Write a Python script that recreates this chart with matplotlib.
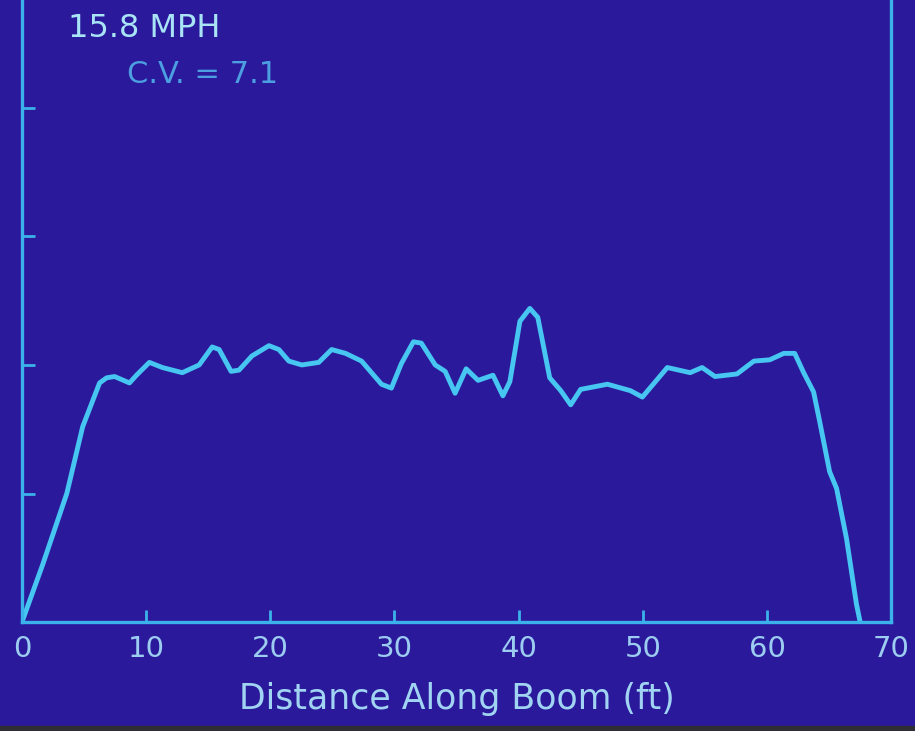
import matplotlib.pyplot as plt
from matplotlib.patches import Rectangle

# deposition profile along the boom
dist_ft = [0, 1.68, 3.61, 4.89, 6.25, 6.82, 7.46, 8.66, 9.22, 10.26, 11.31, 12.91,
           14.27, 15.32, 15.88, 16.84, 17.48, 18.52, 19.89, 20.69, 21.49, 22.54,
           23.90, 24.94, 26.06, 27.35, 28.95, 29.75, 30.55, 31.52, 32.16, 33.28,
           34.08, 34.88, 35.77, 36.73, 37.93, 38.73, 39.29, 40.10, 40.90, 41.54,
           42.50, 43.39, 44.19, 44.99, 47.15, 49.00, 49.96, 51.97, 53.81, 54.77,
           55.81, 57.58, 58.94, 60.22, 61.35, 62.23, 62.95, 63.75, 64.24, 65.04,
           65.60, 66.40, 67.20, 67.50]
deposit = [0, 0.45, 1.00, 1.52, 1.86, 1.90, 1.91, 1.86, 1.92, 2.02, 1.98, 1.94,
           2.00, 2.14, 2.12, 1.95, 1.96, 2.07, 2.15, 2.12, 2.03, 2.00,
           2.02, 2.12, 2.09, 2.03, 1.85, 1.82, 2.01, 2.18, 2.17, 2.00,
           1.95, 1.78, 1.97, 1.88, 1.92, 1.76, 1.87, 2.34, 2.44, 2.37,
           1.90, 1.80, 1.69, 1.81, 1.85, 1.80, 1.75, 1.98, 1.94, 1.98,
           1.91, 1.93, 2.03, 2.04, 2.09, 2.09, 1.94, 1.79, 1.56, 1.17,
           1.04, 0.65, 0.14, 0.0]

x_ticks = [0, 10, 20, 30, 40, 50, 60, 70]
y_ticks = [1, 2, 3, 4]

bg = '#2b199c'
line_col = '#46c6f0'
axis_col = '#3cb2ea'

fig = plt.figure(figsize=(9.15, 7.31), dpi=100, facecolor=bg)
ax = fig.add_axes([0.024, 0.149, 0.950, 0.853])
ax.set_facecolor(bg)

ax.plot(dist_ft, deposit, color=line_col, lw=3.5,
        solid_joinstyle='round', solid_capstyle='round')

ax.set_xlim(0, 70)
ax.set_ylim(0, 4.85)
ax.set_xticks(x_ticks)
ax.set_yticks(y_ticks)
ax.set_yticklabels([])
ax.tick_params(axis='both', direction='in', color=axis_col, width=2, length=9)
ax.tick_params(axis='x', labelsize=21, labelcolor='#9ccdf0', pad=9)
for s in ax.spines.values():
    s.set_color(axis_col)
    s.set_linewidth(2.4)
ax.spines['top'].set_visible(False)

ax.set_xlabel('Distance Along Boom (ft)', fontsize=25, color='#a0d4f2', labelpad=14)

fig.text(0.074, 0.940, '15.8 MPH', fontsize=23, color='#a8e4f6', ha='left', va='bottom')
fig.text(0.139, 0.878, 'C.V. = 7.1', fontsize=22, color='#4c9fe0', ha='left', va='bottom')

# dark strip along the bottom edge of the photo
fig.patches.append(Rectangle((0, 0), 1, 0.007, transform=fig.transFigure,
                             color='#2e2e34', zorder=5))

fig.savefig('out.png', dpi=100, facecolor=bg)
